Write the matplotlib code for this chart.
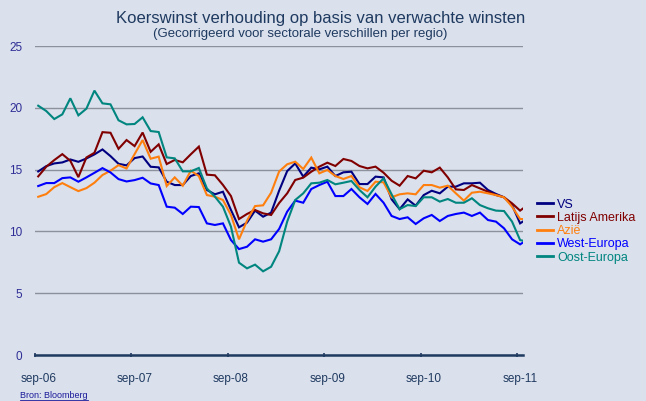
import matplotlib
matplotlib.use("Agg")
import matplotlib.pyplot as plt
from matplotlib.lines import Line2D
import numpy as np

plt.rcParams['font.family'] = ['Liberation Sans', 'DejaVu Sans']

# ---- data -------------------------------------------------------------
# monthly observations sep-2006 .. sep-2011, plus one extra mid-month point
dates = [(2006 + (8 + k) // 12, (8 + k) % 12 + 1, 1) for k in range(61)] + [(2011, 9, 11)]

vs = [14.85, 15.28, 15.5, 15.58, 15.82, 15.63, 15.9, 16.23, 16.63, 16.09, 15.47, 15.34, 15.93, 16.06, 15.23, 15.18,
      14.02, 13.75, 13.75, 14.48, 14.7, 13.35, 13.0, 13.21, 11.73, 10.33, 10.71, 11.68, 11.19, 11.52, 13.3,
      14.88, 15.5, 14.43, 15.16, 15.02, 15.24, 14.48, 14.78, 14.83, 13.83, 13.83, 14.43, 14.37, 12.6, 11.8,
      12.59, 12.08, 12.94, 13.29, 13.08, 13.62, 13.62, 13.89, 13.89, 13.94, 13.35, 13.03, 12.76, 12.13, 10.65, 10.79]
latam = [14.45, 15.23, 15.77, 16.25, 15.71, 14.39, 15.98, 16.36, 18.03, 17.98, 16.68, 17.39, 16.9, 18.0, 16.44, 17.04,
         15.45, 15.78, 15.59, 16.24, 16.86, 14.59, 14.54, 13.76, 12.86, 11.0, 11.41, 11.73, 11.46, 11.33, 12.3,
         13.08, 14.16, 14.35, 14.83, 15.24, 15.56, 15.29, 15.86, 15.7, 15.29, 15.1, 15.24, 14.75, 14.1, 13.7,
         14.48, 14.29, 14.91, 14.78, 15.16, 14.37, 13.4, 13.35, 13.75, 13.48, 13.21, 12.94, 12.76, 12.27, 11.68, 11.84]
azie = [12.8, 13.02, 13.58, 13.91, 13.58, 13.26, 13.5, 13.94, 14.56, 14.91, 15.36, 15.09, 16.25, 17.39, 15.88, 16.05,
        13.67, 14.37, 13.7, 14.91, 14.48, 12.94, 12.81, 12.54, 11.33, 9.36, 10.87, 12.05, 12.11, 13.13, 14.85,
        15.43, 15.64, 15.05, 15.97, 14.7, 14.97, 14.48, 14.24, 14.48, 13.57, 13.27, 14.02, 13.97, 12.76, 13.0,
        13.08, 13.0, 13.75, 13.75, 13.54, 13.7, 13.08, 12.49, 13.13, 13.21, 13.08, 12.94, 12.76, 12.0, 11.0, 11.0]
west = [13.67, 13.91, 13.91, 14.31, 14.37, 14.02, 14.37, 14.74, 15.12, 14.77, 14.23, 14.04, 14.15, 14.34, 13.88, 13.75,
        12.0, 11.92, 11.41, 12.0, 11.97, 10.65, 10.52, 10.65, 9.3, 8.57, 8.76, 9.36, 9.17, 9.36, 10.2,
        11.6, 12.49, 12.32, 13.43, 13.75, 14.02, 12.86, 12.86, 13.43, 12.76, 12.22, 13.03, 12.32, 11.25, 11.0,
        11.14, 10.6, 11.06, 11.33, 10.84, 11.25, 11.41, 11.52, 11.25, 11.52, 10.92, 10.79, 10.25, 9.36, 8.95, 9.09]
oost = [20.17, 19.74, 19.09, 19.47, 20.77, 19.39, 19.93, 21.39, 20.36, 20.28, 18.99, 18.66, 18.69, 19.23, 18.12, 18.04,
        15.99, 15.91, 14.86, 14.86, 15.13, 13.48, 12.81, 12.0, 10.38, 7.47, 7.01, 7.31, 6.77, 7.14, 8.4,
        10.79, 12.54, 13.08, 13.89, 13.94, 14.16, 13.81, 13.94, 14.08, 13.35, 12.76, 13.62, 14.29, 13.0, 11.8,
        12.13, 12.05, 12.76, 12.76, 12.41, 12.62, 12.32, 12.32, 12.68, 12.13, 11.87, 11.68, 11.65, 10.79, 9.3, 9.25]

series_names = ['VS', 'Latijs Amerika', 'Azië', 'West-Europa', 'Oost-Europa']
series_colors = ['#000080', '#800000', '#ff7f0e', '#0000ff', '#00857f']
y_ticks = [0, 5, 10, 15, 20, 25]
x_labels = ['sep-06', 'sep-07', 'sep-08', 'sep-09', 'sep-10', 'sep-11']

title = 'Koerswinst verhouding op basis van verwachte winsten'
subtitle = '(Gecorrigeerd voor sectorale verschillen per regio)'
source = 'Bron: Bloomberg'

# ---- helpers ----------------------------------------------------------
def month_index(d):
    y, m, day = d
    return (y - 2006) * 12 + (m - 9) + (day - 1) / 30.0

x = np.array([month_index(d) for d in dates])

# ---- figure -----------------------------------------------------------
W, H = 646, 401
bg = '#dae0ec'
fig = plt.figure(figsize=(W / 100, H / 100), dpi=100, facecolor=bg)
ax = fig.add_axes([35 / W, 1 - 355 / H, (522.5 - 35) / W, 309 / H], facecolor=bg)

for vals, name, col in zip([vs, latam, azie, west, oost], series_names, series_colors):
    ax.plot(x, vals, color=col, lw=1.5, label=name, zorder=3, solid_joinstyle='miter')

ax.set_ylim(0, 25)
ax.set_xlim(-0.4, 60.3)
ax.set_yticks(y_ticks)
ax.set_yticklabels([str(v) for v in y_ticks])
ax.tick_params(axis='y', length=0, pad=9, labelsize=8.5, labelcolor='#2e2e96')
ax.yaxis.grid(True, color='#8d919b', lw=1.0)
ax.set_axisbelow(True)

label_pos = [12 * k for k in range(len(x_labels))]
ax.set_xticks(label_pos)
ax.set_xticklabels(x_labels)
ax.tick_params(axis='x', which='major', length=0, pad=13, labelsize=8.5, labelcolor='#1f3a60')
ax.set_xticks([p - 0.4 for p in label_pos], minor=True)
ax.tick_params(axis='x', which='minor', length=3.5, width=1.2, color='#1f3a60', direction='inout')

for s in ['top', 'right', 'left']:
    ax.spines[s].set_visible(False)
ax.spines['bottom'].set_color('#1f3a60')
ax.spines['bottom'].set_linewidth(1.8)
ax.spines['bottom'].set_zorder(4)

# titles
fig.text(321 / W, 1 - 18 / H, title, ha='center', va='center', fontsize=12, color='#1f3a60')
fig.text(300 / W, 1 - 34 / H, subtitle, ha='center', va='center', fontsize=9.5, color='#1f3a60')

# legend
leg = fig.legend(loc='center left', bbox_to_anchor=(537 / W, 1 - 231 / H), frameon=False,
                 fontsize=9, handlelength=1.3, handletextpad=0.3, labelspacing=0.1,
                 borderpad=0, borderaxespad=0)
for txt, col in zip(leg.get_texts(), series_colors):
    txt.set_color(col)
for ln in leg.get_lines():
    ln.set_linewidth(2.0)

# source (underlined)
src = fig.text(20 / W, 1 - 396 / H, source, ha='left', va='center', fontsize=6.5, color='#1a1a9a')
fig.canvas.draw()
bb = src.get_window_extent().transformed(fig.transFigure.inverted())
fig.add_artist(Line2D([bb.x0, bb.x1], [bb.y0 + 0.002, bb.y0 + 0.002], transform=fig.transFigure,
                      color='#1a1a9a', lw=0.6))

fig.savefig('out.png', dpi=100, facecolor=bg)
